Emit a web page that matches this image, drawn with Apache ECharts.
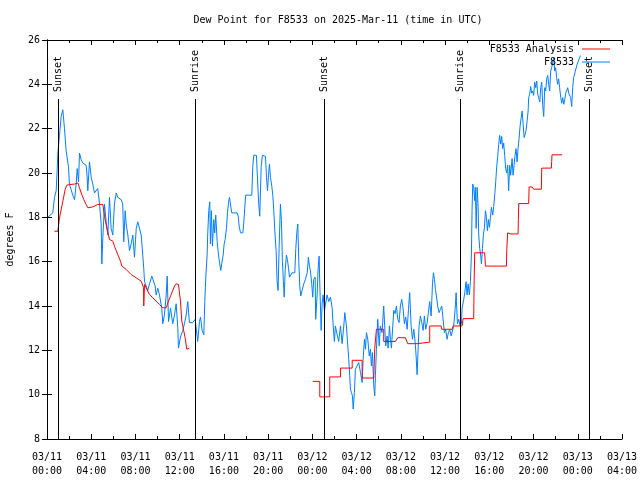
<!DOCTYPE html>
<html>
<head>
<meta charset="utf-8">
<script src="https://cdn.jsdelivr.net/npm/echarts@6/dist/echarts.min.js"></script>
<style>html,body{margin:0;padding:0;background:#fff}#c{width:640px;height:480px}</style>
</head>
<body>
<div id="c"></div>
<script>
// Hours since 2025-03-11 00:00 UTC
const titleText = 'Dew Point for F8533 on 2025-Mar-11 (time in UTC)';
const yName = 'degrees F';
const xMin = 0, xMax = 52, xStep = 4;
const yMin = 8, yMax = 26, yStep = 2;

const sunTimes = [0.98, 13.36, 25.03, 37.32, 48.99];
const sunLabels = ['Sunset', 'Sunrise', 'Sunset', 'Sunrise', 'Sunset'];

// F8533 observations [hour, degF]
const obsDay1 = [[0.07,18.0],[0.52,18.2],[0.68,18.9],[0.83,19.2],[0.92,20.15],[0.98,20.9],[1.13,21.7],[1.28,22.55],[1.43,22.85],[1.58,22.0],[1.73,21.0],[1.94,20.3],[2.03,19.5],[2.33,19.0],[2.49,18.8],[2.64,19.5],[2.73,20.2],[2.85,19.6],[2.94,20.9],[3.09,20.6],[3.24,20.45],[3.54,20.35],[3.63,19.85],[3.69,19.2],[3.84,20.5],[4.0,19.8],[4.14,19.5],[4.29,19.1],[4.59,19.3],[4.75,18.6],[4.9,17.7],[4.96,15.9],[5.05,17.1],[5.2,18.6],[5.35,17.8],[5.5,17.2],[5.65,18.9],[5.8,17.5],[5.95,17.2],[6.1,18.6],[6.26,19.1],[6.4,18.9],[6.71,18.8],[6.85,18.6],[6.94,16.9],[7.07,18.3],[7.16,17.7],[7.31,17.2],[7.46,16.5],[7.61,16.8],[7.76,17.2],[7.91,16.2],[8.07,17.5],[8.21,17.8],[8.52,17.2],[8.75,15.7],[8.82,15.1],[8.97,14.9],[9.11,14.7],[9.27,15.0],[9.48,15.35],[9.66,15.4],[9.78,14.9],[9.87,14.5],[10.02,14.8],[10.17,14.5],[10.38,13.9],[10.47,13.2],[10.62,13.6],[10.78,14.5],[10.87,15.35],[10.99,13.3],[11.17,13.9],[11.37,13.2],[11.53,13.6],[11.68,14.1],[11.83,13.0],[11.89,12.1],[12.07,12.6],[12.28,12.9],[12.43,13.2],[12.59,13.6],[12.73,14.2],[12.88,13.25],[13.18,13.25],[13.4,13.4],[13.63,12.4],[13.79,13.3],[13.88,13.5],[14.03,12.9],[14.18,12.7],[14.27,14.2],[14.36,15.3],[14.48,16.3],[14.54,17.3],[14.63,18.3],[14.72,18.7],[14.78,16.8],[14.87,18.3],[14.96,16.7],[15.08,17.9],[15.17,17.3],[15.26,18.1],[15.39,16.9],[15.51,16.3],[15.62,15.9],[15.71,15.6],[15.8,15.9],[15.93,16.3],[16.02,16.8],[16.11,17.0],[16.23,17.5],[16.32,18.2],[16.41,18.65],[16.5,18.9],[16.59,18.6],[16.71,18.2],[17.2,18.2],[17.29,18.05],[17.38,17.6],[17.5,17.3],[17.71,17.3],[17.79,17.7],[17.88,18.4],[17.97,19.0],[18.52,19.0],[18.61,20.3],[18.7,20.8],[18.94,20.8],[19.06,19.5],[19.15,18.6],[19.24,18.05],[19.37,20.3],[19.48,20.8],[19.76,20.75],[19.85,19.8],[19.94,19.2],[20.03,19.9],[20.12,20.4],[20.21,19.8],[20.33,19.4],[20.42,19.0],[20.51,18.3],[20.6,17.4],[20.72,16.5],[20.81,15.1],[20.9,14.7],[20.99,16.6],[21.11,18.6],[21.2,17.85],[21.29,16.0],[21.38,15.1],[21.45,14.4],[21.54,15.6],[21.65,16.3],[21.74,16.1],[21.84,15.7],[21.93,15.3],[22.02,15.35],[22.17,15.5],[22.41,15.5],[22.5,16.6],[22.59,17.3],[22.68,17.7],[22.77,16.0],[22.86,14.9],[22.95,14.45],[23.07,14.7],[23.22,15.0],[23.37,15.2],[23.53,15.5],[23.64,16.2],[23.73,15.8],[23.82,15.6],[23.94,15.0]];
const obsDay2 = [[24.03,14.4],[24.12,15.2],[24.25,15.3],[24.3,13.4],[24.43,14.5],[24.52,15.7],[24.61,16.25],[24.67,15.0],[24.79,12.9],[24.88,14.1],[24.97,14.5],[25.09,13.8],[25.33,14.5],[25.48,14.2],[25.63,14.4],[25.79,13.9],[25.88,13.1],[25.99,12.4],[26.08,13.1],[26.24,12.7],[26.38,12.4],[26.54,13.1],[26.69,12.3],[26.84,13.1],[26.93,13.7],[27.08,13.1],[27.2,12.2],[27.29,11.6],[27.38,10.85],[27.44,10.25],[27.53,10.1],[27.62,9.95],[27.69,9.35],[27.8,10.1],[27.89,11.15],[28.05,11.3],[28.19,11.45],[28.35,11.0],[28.5,10.55],[28.59,11.6],[28.71,12.5],[28.8,12.05],[28.89,12.8],[29.01,12.5],[29.14,11.75],[29.25,12.05],[29.34,11.3],[29.43,11.9],[29.55,10.4],[29.64,9.95],[29.7,10.85],[29.79,12.05],[29.91,13.4],[30.04,12.2],[30.15,13.1],[30.3,12.8],[30.45,14.0],[30.54,13.1],[30.63,12.2],[30.76,12.65],[30.85,12.1],[30.97,13.1],[31.06,12.5],[31.15,12.1],[31.27,13.1],[31.36,13.8],[31.48,13.65],[31.6,14.0],[31.72,13.4],[31.84,13.25],[31.96,14.0],[32.08,14.3],[32.21,13.85],[32.32,13.2],[32.44,13.5],[32.57,12.95],[32.69,13.85],[32.8,14.6],[32.93,13.1],[33.05,12.5],[33.17,12.95],[33.29,12.4],[33.38,11.75],[33.47,10.9],[33.56,12.05],[33.65,13.1],[33.77,13.55],[33.89,13.25],[34.01,12.9],[34.13,13.55],[34.25,12.95],[34.38,13.25],[34.49,13.7],[34.61,14.2],[34.74,13.55],[34.86,15.0],[34.95,15.5],[35.04,15.2],[35.13,14.75],[35.22,14.45],[35.33,14.0],[35.46,13.7],[35.58,13.85],[35.7,14.0],[35.82,13.95],[35.94,12.8],[36.05,12.95],[36.18,12.5],[36.3,12.8],[36.42,12.95],[36.55,12.65],[36.66,12.6],[36.78,13.1],[36.91,13.85],[37.0,14.6],[37.03,14.2],[37.12,13.2],[37.23,13.4],[37.36,13.1],[37.48,13.2],[37.54,13.9],[37.69,14.3],[37.78,14.6],[37.9,15.1],[37.99,14.5],[38.08,15.0],[38.2,14.5],[38.29,15.1],[38.38,16.3],[38.44,18.3],[38.5,19.5],[38.59,19.35],[38.68,18.75],[38.74,19.35],[38.81,17.5],[38.9,19.35],[38.99,18.45],[39.04,17.25],[39.13,16.6],[39.22,16.3],[39.29,15.9],[39.38,16.6],[39.47,17.25],[39.56,17.55],[39.65,18.3],[39.74,18.0],[39.83,17.4],[39.92,17.9],[40.01,17.55],[40.1,18.0],[40.19,18.45],[40.31,18.1],[40.4,18.5],[40.49,19.0],[40.58,19.6],[40.67,20.3],[40.76,20.75],[40.85,21.3],[40.94,21.7],[41.03,21.3],[41.12,21.65],[41.21,21.1],[41.3,21.35],[41.39,20.8],[41.48,20.2],[41.57,20.0],[41.66,20.35],[41.75,19.2],[41.84,20.35],[41.93,19.9],[42.06,20.65],[42.15,19.9],[42.24,20.35],[42.33,20.8],[42.42,21.1],[42.51,20.5],[42.6,21.1],[42.69,21.55],[42.78,22.1],[42.87,22.45],[42.97,22.8],[43.06,22.2],[43.15,21.6],[43.24,21.75],[43.33,21.95],[43.42,22.35],[43.51,22.8],[43.56,23.4],[43.65,23.55],[43.74,23.9],[43.83,23.6],[43.92,23.7],[44.01,23.5],[44.1,24.1],[44.2,23.85],[44.29,24.15],[44.38,23.55],[44.47,23.4],[44.56,23.2],[44.65,23.85],[44.74,24.1],[44.83,23.05],[44.92,22.55],[45.01,23.85],[45.1,23.7],[45.19,24.25],[45.28,24.4],[45.37,24.0],[45.46,23.7],[45.55,24.6],[45.64,24.75],[45.73,25.0],[45.82,25.2],[45.91,24.6],[46.0,24.75],[46.09,24.3],[46.18,24.0],[46.27,24.25],[46.36,23.85],[46.46,23.4],[46.55,23.15],[46.64,23.4],[46.73,23.1],[46.82,23.3],[46.91,23.6],[47.0,23.55],[47.09,23.85],[47.18,23.6],[47.27,23.55],[47.36,23.4],[47.45,23.0],[47.54,23.85],[47.63,24.3],[47.78,24.6],[47.94,24.9],[48.09,25.1],[48.24,25.3]];

// F8533 Analysis [hour, degF]
const anaDay1 = [[0.68,17.37],[0.98,17.37],[1.13,17.97],[1.28,18.35],[1.43,18.72],[1.64,19.25],[1.79,19.45],[2.03,19.48],[2.49,19.5],[2.79,19.55],[2.94,19.33],[3.09,19.1],[3.33,18.8],[3.54,18.58],[3.69,18.43],[4.14,18.47],[4.59,18.58],[5.05,18.58],[5.2,18.05],[5.35,17.67],[5.65,17.0],[5.95,16.93],[6.1,16.7],[6.4,16.32],[6.65,16.02],[6.77,15.8],[7.16,15.65],[7.61,15.42],[8.07,15.27],[8.52,15.12],[8.73,14.82],[8.75,14.0],[8.82,14.97],[9.27,14.52],[9.57,14.37],[9.87,14.22],[10.17,14.07],[10.47,13.92],[10.78,13.92],[10.99,14.22],[11.23,14.52],[11.53,14.9],[11.68,15.0],[11.89,14.97],[12.07,14.22],[12.19,13.32],[12.37,12.87],[12.49,12.57],[12.64,12.05],[12.88,12.1]];
const anaDay2 = [[24.03,10.6],[24.67,10.6],[24.67,9.9],[25.57,9.9],[25.57,10.8],[26.54,10.8],[26.54,11.2],[27.6,11.2],[27.6,11.55],[28.5,11.55],[28.5,10.75],[29.55,10.75],[29.64,12.1],[29.79,12.95],[30.45,12.95],[30.45,12.4],[31.51,12.4],[31.72,12.57],[32.41,12.57],[32.62,12.3],[33.47,12.3],[33.56,12.37],[34.61,12.37],[34.61,13.1],[35.64,13.1],[35.7,12.95],[36.64,12.95],[36.73,13.1],[37.54,13.1],[37.63,13.43],[38.59,13.43],[38.62,14.93],[38.68,16.4],[39.58,16.4],[39.65,15.8],[40.64,15.8],[40.76,15.87],[40.94,15.8],[41.55,15.8],[41.58,16.55],[41.66,17.3],[41.82,17.35],[41.97,17.25],[42.6,17.25],[42.63,17.9],[42.66,18.62],[43.56,18.62],[43.6,19.37],[43.87,19.37],[44.01,19.27],[44.71,19.27],[44.74,20.22],[45.61,20.22],[45.64,20.52],[45.67,20.82],[46.58,20.82]];

const START = Date.UTC(2025, 2, 11, 0, 0);
const FONT = 'DejaVu Sans Mono';
const pad = n => String(n).padStart(2, '0');
function fmtX(v) {
  const d = new Date(START + v * 3600000);
  return pad(d.getUTCMonth() + 1) + '/' + pad(d.getUTCDate()) + '\n' + pad(d.getUTCHours()) + ':' + pad(d.getUTCMinutes());
}

const chart = echarts.init(document.getElementById('c'), null, {renderer: 'canvas'});

const axisLine = {show: true, lineStyle: {color: '#000', width: 1}};
const xCommon = {
  type: 'value', min: xMin, max: xMax, interval: xStep,
  axisLine: axisLine, splitLine: {show: false},
  axisTick: {show: true, inside: true, length: 5, lineStyle: {color: '#000'}},
  minorTick: {show: true, splitNumber: 2, length: 3, lineStyle: {color: '#000'}},
  minorSplitLine: {show: false}
};
const yCommon = {
  type: 'value', min: yMin, max: yMax, interval: yStep,
  axisLine: axisLine, splitLine: {show: false},
  axisTick: {show: true, inside: true, length: 5, lineStyle: {color: '#000'}}
};

const option = {
  animation: false,
  backgroundColor: '#fff',
  textStyle: {fontFamily: FONT},
  title: {
    text: titleText, left: 333, top: 10, textAlign: 'center',
    textStyle: {fontFamily: FONT, fontSize: 10, fontWeight: 'normal', color: '#000'}
  },
  legend: {
    orient: 'vertical', right: 25, top: 39, align: 'right',
    itemWidth: 28, itemHeight: 1, itemGap: 3,
    textStyle: {fontFamily: FONT, fontSize: 10, color: '#000', padding: [0, 3, 0, 0]},
    data: [{name: 'F8533 Analysis', icon: 'rect'}, {name: 'F8533', icon: 'rect'}]
  },
  grid: {left: 47, right: 18, top: 40, bottom: 41, containLabel: false, outerBoundsMode: 'none'},
  xAxis: [
    Object.assign({}, xCommon, {
      position: 'bottom',
      axisLabel: {show: true, formatter: fmtX, fontFamily: FONT, fontSize: 10, color: '#000', lineHeight: 14, margin: 11, showMinLabel: true, showMaxLabel: true}
    }),
    Object.assign({}, xCommon, {position: 'top', axisLabel: {show: false}})
  ],
  yAxis: [
    Object.assign({}, yCommon, {
      position: 'left', name: yName, nameLocation: 'middle', nameRotate: 90, nameGap: 32,
      nameTextStyle: {fontFamily: FONT, fontSize: 10, color: '#000'},
      axisLabel: {show: true, fontFamily: FONT, fontSize: 10, color: '#000', margin: 7}
    }),
    Object.assign({}, yCommon, {position: 'right', axisLabel: {show: false}})
  ],
  series: [
    {
      name: 'F8533 Analysis', type: 'line', symbol: 'none', showSymbol: false,
      lineStyle: {color: '#ff0000', width: 1}, itemStyle: {color: '#ff0000'},
      data: anaDay1.concat([[13, '-']], anaDay2), connectNulls: false, z: 3
    },
    {
      name: 'F8533', type: 'line', symbol: 'none', showSymbol: false,
      lineStyle: {color: '#0080ff', width: 1}, itemStyle: {color: '#0080ff'},
      data: obsDay1.concat(obsDay2), z: 2
    },
    {
      name: 'sun', type: 'custom', z: 4, silent: true,
      data: sunTimes.map((t, i) => [t, sunLabels[i]]),
      renderItem: function (params, api) {
        const t = api.value(0);
        const top = api.coord([t, yMax]);
        const bot = api.coord([t, yMin]);
        const x = Math.round(top[0]) + 0.5;
        return {
          type: 'group',
          children: [
            {type: 'line', shape: {x1: x, y1: top[1] + 59, x2: x, y2: bot[1]}, style: {stroke: '#000', lineWidth: 1}},
            {type: 'text', x: x, y: top[1] + 52, rotation: Math.PI / 2,
              style: {text: sunLabels[params.dataIndex], fill: '#000', font: '10px ' + FONT, align: 'left', verticalAlign: 'middle'}}
          ]
        };
      }
    }
  ]
};
chart.setOption(option);
</script>
</body>
</html>
